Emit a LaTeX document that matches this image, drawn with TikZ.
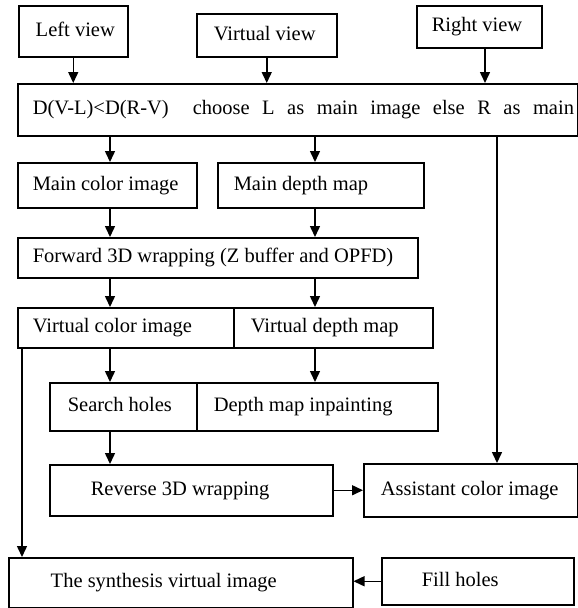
\documentclass[tikz,border=0pt]{standalone}
\usepackage{fontspec}
\setmainfont{Liberation Serif}
\usetikzlibrary{arrows.meta,calc}
\tikzset{
  box/.style={draw, line width=1.5pt, inner sep=0pt, anchor=north west},
  arr/.style={line width=1.5pt, -{Triangle[length=11pt,width=10pt]}}
}
% name, x1, y1, x2, y2, text-x, text
\newcommand\flowbox[7]{%
  \node[box, minimum height={(#5-#3)*1pt}] (#1) at (#2,#3)
    {\makebox[\dimexpr #4pt-#2pt\relax][l]{\strut\hspace*{\dimexpr #6pt-#2pt\relax}#7}};}
\newcommand\ws{\hspace{12.5pt}}
\begin{document}
\begin{tikzpicture}[x=1pt,y=-1pt,font=\fontsize{20.5}{24}\selectfont]
\useasboundingbox (0,0) rectangle (578,608);
\flowbox{left}{18}{5}{127}{56}{35}{Left view}
\flowbox{virt}{196}{13}{336}{56}{213}{Virtual view}
\flowbox{right}{416}{5}{541}{47}{431}{Right view}
\flowbox{main}{17}{83}{577}{135}{32}{D(V-L)<D(R-V)\hspace{24pt}choose\ws L\ws as\ws main\ws image\ws else\ws R\ws as\ws main}
\flowbox{mcolor}{17}{162}{196}{207}{32}{Main color image}
\flowbox{mdepth}{217}{162}{423}{207}{233}{Main depth map}
\flowbox{fwd}{17}{237}{417}{277}{32}{Forward 3D wrapping (Z buffer and OPFD)}
\flowbox{vcolor}{17}{307}{233}{347}{32}{Virtual color image}
\flowbox{vdepth}{233}{307}{432}{347}{250}{Virtual depth map}
\flowbox{search}{49}{382}{196}{430}{67}{Search holes}
\flowbox{inpaint}{196}{382}{437}{430}{213}{Depth map inpainting}
\flowbox{reverse}{49}{464}{332}{515}{90}{Reverse 3D wrapping}
\flowbox{assist}{363}{463}{577}{516}{380}{Assistant color image}
\flowbox{synth}{8}{557}{352}{607}{50}{The synthesis virtual image}
\flowbox{fill}{381}{557}{573}{604}{421}{Fill holes}
\coordinate (c22) at (22,0);
\coordinate (c110) at (110,0);
\coordinate (c315) at (315,0);
\coordinate (c485) at (485,0);
\coordinate (c497) at (497,0);
\draw[arr] (left.south) -- (left.south |- main.north);
\draw[arr] (virt.south) -- (virt.south |- main.north);
\draw[arr] (right.south -| c485) -- (main.north -| c485);
\draw[arr] (main.south -| c110) -- (mcolor.north -| c110);
\draw[arr] (main.south -| c315) -- (mdepth.north -| c315);
\draw[arr] (main.south -| c497) -- (assist.north -| c497);
\draw[arr] (mcolor.south -| c110) -- (fwd.north -| c110);
\draw[arr] (mdepth.south -| c315) -- (fwd.north -| c315);
\draw[arr] (fwd.south -| c110) -- (vcolor.north -| c110);
\draw[arr] (fwd.south -| c315) -- (vdepth.north -| c315);
\draw[arr] (vcolor.south -| c110) -- (search.north -| c110);
\draw[arr] (vdepth.south -| c315) -- (inpaint.north -| c315);
\draw[arr] (search.south -| c110) -- (reverse.north -| c110);
\draw[arr] (reverse.east) -- (assist.west);
\draw[arr] (vcolor.south -| c22) -- (synth.north -| c22);
\draw[arr] (fill.west) -- (fill.west -| synth.east);
\end{tikzpicture}
\end{document}
